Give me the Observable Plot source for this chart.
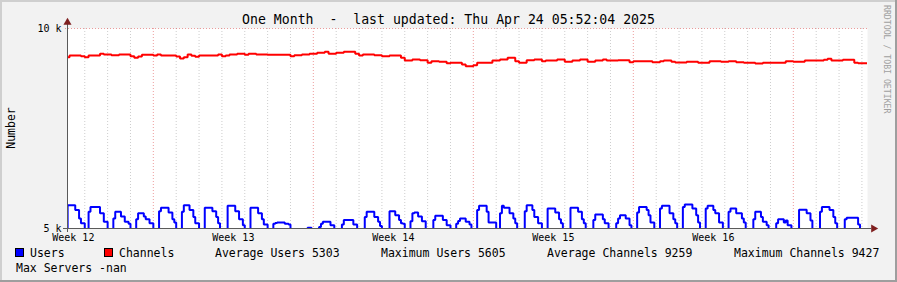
<!DOCTYPE html>
<html><head><meta charset="utf-8">
<script src="https://cdn.jsdelivr.net/npm/d3@7"></script>
<script src="https://cdn.jsdelivr.net/npm/@observablehq/plot@0.6"></script>
<style>
html,body{margin:0;padding:0;background:#f2f2f2;}
svg text{white-space:pre;}
</style></head><body><div id="chart"></div>
<script>
// ---- data ----
const titleText = "One Month  -  last updated: Thu Apr 24 05:52:04 2025";
const yLabel = "Number";
const watermark = "RRDTOOL / TOBI OETIKER";
const domainStart = "2025-03-20T05:52:04Z";
const domainEnd = "2025-04-24T05:52:04Z";

const weekLabels = ["Week 12", "Week 13", "Week 14", "Week 15", "Week 16"];
const weekLabelTimes = ["2025-03-20T12:00Z", "2025-03-27T12:00Z", "2025-04-03T12:00Z", "2025-04-10T12:00Z", "2025-04-17T12:00Z"];
const yTicks = [5000, 10000];

const seriesNames = ["Users", "Channels"];
const seriesColors = ["#0000ff", "#ff0000"];
const statLabels = ["Average Users 5303", "Maximum Users 5605", "Average Channels 9259", "Maximum Channels 9427"];
const extraLabel = "Max Servers -nan";

// Users: one value every 2 hours from 2025-03-20 00:00 (12 per day)
const usersStart = "2025-03-20T00:00Z";
const usersStepHours = 2;
const users = [
  4950,4950,4950,5580,5580,5580,5580,5460,5460,5250,5130,5130, // Mar 20
  4950,4950,5420,5540,5540,5540,5540,5540,5380,5380,5170,5170, // Mar 21
  4950,4950,4950,5250,5420,5420,5420,5300,5300,5170,5170,5120, // Mar 22
  4950,4950,4950,5230,5380,5380,5380,5300,5230,5230,5130,5130, // Mar 23
  4950,4950,4950,5430,5520,5520,5520,5520,5400,5400,5230,5150, // Mar 24
  4950,4950,4950,5420,5580,5580,5580,5460,5460,5290,5130,5130, // Mar 25
  4950,4950,4950,5520,5520,5520,5520,5430,5430,5290,5130,4950, // Mar 26
  4950,4950,4950,5570,5570,5570,5570,5430,5430,5230,5230,5080, // Mar 27
  4950,4950,4950,5520,5520,5520,5520,5380,5380,5230,5100,5100, // Mar 28
  4950,4950,4950,5120,5140,5150,5150,5150,5150,5120,5120,5100, // Mar 29
  4950,4950,4950,4950,4950,4950,4950,4950,4950,5020,5020,4950, // Mar 30
  4950,4950,4950,5040,5120,5170,5170,5170,5170,5080,5080,4950, // Mar 31
  4950,4950,4950,5100,5210,5210,5210,5210,5210,5100,5100,4950, // Apr 1
  4950,4950,4950,5290,5420,5420,5420,5420,5290,5290,5170,5060, // Apr 2
  4950,4950,4950,4950,5430,5430,5430,5330,5330,5210,5130,5120, // Apr 3
  4950,4950,4950,5180,5380,5400,5400,5300,5300,5180,5180,4950, // Apr 4
  4950,4950,4950,5210,5320,5320,5320,5320,5210,5210,5080,5080, // Apr 5
  4950,4950,4950,5120,5190,5250,5250,5250,5170,5170,5100,4950, // Apr 6
  4950,4950,5460,5570,5570,5570,5570,5420,5150,5150,5150,5150, // Apr 7
  4950,4950,5380,5570,5520,5520,5520,5380,5380,5250,5130,4950, // Apr 8
  4950,4950,4950,5430,5580,5580,5580,5460,5290,5290,5130,5130, // Apr 9
  4950,4950,4950,5500,5500,5500,5500,5400,5400,5230,5130,4950, // Apr 10
  4950,4950,4950,5520,5520,5520,5520,5420,5420,5230,5130,4950, // Apr 11
  4950,4950,4950,5210,5350,5350,5350,5350,5230,5130,5130,4950, // Apr 12
  4950,4950,4950,5130,5250,5330,5330,5330,5250,5250,5080,4950, // Apr 13
  4950,4950,5400,5540,5540,5540,5540,5460,5330,5150,5150,4950, // Apr 14
  4950,4950,5500,5570,5570,5570,5570,5380,5380,5230,5130,4950, // Apr 15
  4950,4950,5540,5600,5600,5600,5600,5500,5500,5330,5150,4950, // Apr 16
  4950,4950,5500,5570,5570,5570,5460,5380,5380,5150,5150,4950, // Apr 17
  4950,4950,5420,5500,5500,5500,5380,5380,5380,5250,5150,4950, // Apr 18
  4950,4950,4950,5230,5420,5420,5420,5290,5170,5170,5080,4950, // Apr 19
  4950,4950,4950,5130,5230,5230,5230,5150,5200,5080,5080,4950, // Apr 20
  4950,4950,4950,5470,5470,5470,5470,5380,5380,5200,4950,4950, // Apr 21
  4950,4950,5420,5540,5540,5540,5540,5460,5460,5290,5130,4950, // Apr 22
  4950,4950,4950,5230,5270,5270,5270,5270,5270,5270,5100,4950, // Apr 23
  4950,4950,4950                                               // Apr 24
];

// Channels: one value every 4 hours from 2025-03-20 00:00
const channelsStart = "2025-03-20T00:00Z";
const channelsStepHours = 4;
const channels = [
  9283,9283,9325,9325,9325,9308,9283,9325,9325,9325,
  9367,9350,9350,9333,9333,9350,9350,9350,9308,9267,
  9300,9342,9342,9342,9325,9350,9325,9325,9325,9325,
  9300,9250,9283,9350,9317,9292,9325,9325,9325,9325,
  9325,9350,9308,9325,9350,9350,9367,9367,9342,9367,
  9367,9350,9350,9350,9342,9342,9342,9342,9342,9342,
  9308,9333,9333,9350,9350,9367,9367,9392,9392,9417,
  9367,9367,9392,9392,9417,9417,9417,9367,9325,9350,
  9350,9350,9333,9333,9308,9308,9325,9325,9325,9267,
  9200,9200,9225,9225,9208,9208,9142,9183,9183,9167,
  9167,9133,9142,9142,9142,9100,9058,9058,9083,9142,
  9142,9142,9142,9200,9200,9225,9225,9267,9267,9183,
  9142,9142,9208,9208,9225,9225,9183,9200,9200,9200,
  9225,9225,9167,9167,9200,9200,9225,9225,9167,9167,
  9200,9200,9225,9200,9200,9200,9208,9208,9208,9158,
  9183,9183,9183,9183,9183,9158,9158,9183,9200,9200,
  9167,9150,9150,9150,9167,9167,9167,9142,9142,9142,
  9183,9183,9183,9167,9167,9183,9183,9158,9158,9142,
  9142,9142,9125,9125,9142,9142,9142,9142,9142,9142,
  9183,9183,9167,9167,9167,9200,9200,9200,9200,9200,
  9217,9242,9200,9200,9200,9217,9217,9217,9142,9133,
  9133,9133
];

// ---- build ----
const FONT = "'DejaVu Sans Mono', monospace";
const start = new Date(domainStart);
const end = new Date(domainEnd);
function series(values, t0, stepH) {
  const base = new Date(t0).getTime();
  const rows = values.map((v, i) => ({t: new Date(base + i * stepH * 3600e3), v}));
  rows.push({t: end, v: values[values.length - 1]});
  return rows;
}
const usersData = series(users, usersStart, usersStepHours);
const channelsData = series(channels, channelsStart, channelsStepHours);
const weekTimes = weekLabelTimes.map(s => new Date(s));
const minorDays = d3.utcDay.range(start, end).filter(d => d.getUTCDay() !== 1);
const mondays = d3.utcMonday.range(start, end);

const GRID = "rgba(143,143,143,0.45)";
const MGRID = "rgba(222,79,79,0.55)";
const AXIS = "#5a5a5a";
const ARROW = "#7f1f1f";

const chart = Plot.plot({
  width: 897, height: 282,
  marginLeft: 67, marginRight: 30, marginTop: 28, marginBottom: 54,
  style: {background: "#f2f2f2", fontFamily: FONT, fontSize: "10px", color: "#000", overflow: "visible"},
  x: {type: "utc", domain: [start, end], label: null},
  y: {domain: [5000, 10000], label: null},
  marks: [
    Plot.frame({fill: "#ffffff", stroke: null}),
    Plot.ruleX(minorDays, {stroke: GRID, strokeDasharray: "1,2"}),
    Plot.ruleX(mondays, {stroke: MGRID, strokeDasharray: "1,2"}),
    Plot.ruleY([10000], {stroke: MGRID, strokeDasharray: "1,2", insetLeft: -2, insetRight: -2}),
    Plot.line(usersData, {x: "t", y: "v", curve: "step-after", stroke: seriesColors[0], strokeWidth: 2, strokeLinejoin: "miter", clip: true}),
    Plot.line(channelsData, {x: "t", y: "v", curve: "step-after", stroke: seriesColors[1], strokeWidth: 2, strokeLinejoin: "miter", clip: true}),
    Plot.ruleY([5000], {stroke: AXIS, insetLeft: -4, insetRight: -4}),
    Plot.ruleX([start], {stroke: AXIS, insetTop: -4, insetBottom: -4}),
    Plot.dot([{t: end, v: 5000}], {x: "t", y: "v", symbol: "triangle", r: 3, rotate: 90, dx: 6, fill: ARROW, stroke: null}),
    Plot.dot([{t: start, v: 10000}], {x: "t", y: "v", symbol: "triangle", r: 3, dy: -6, fill: ARROW, stroke: null}),
    Plot.axisY({ticks: yTicks, tickFormat: d => `${d / 1000} k`, tickSize: 0, tickPadding: 6, label: null}),
    Plot.axisX({ticks: weekTimes, tickFormat: d => weekLabels[weekTimes.findIndex(w => +w === +d)], tickSize: 0, tickPadding: 5, label: null})
  ]
});
document.getElementById("chart").appendChild(chart);

// ---- decorations (text, legend, frame) ----
const svg = d3.select(chart);
svg.append("rect").attr("x", 0).attr("y", 0).attr("width", 897).attr("height", 2).attr("fill", "#cfcfcf");
svg.append("rect").attr("x", 0).attr("y", 0).attr("width", 2).attr("height", 282).attr("fill", "#cfcfcf");
svg.append("rect").attr("x", 0).attr("y", 280).attr("width", 897).attr("height", 2).attr("fill", "#9e9e9e");
svg.append("rect").attr("x", 895).attr("y", 0).attr("width", 2).attr("height", 282).attr("fill", "#9e9e9e");

function txt(x, y, s, size, opts = {}) {
  const t = svg.append("text").attr("x", x).attr("y", y).text(s)
    .attr("font-family", FONT).attr("font-size", size).attr("fill", opts.fill || "#000")
    .attr("text-anchor", opts.anchor || "start");
  if (opts.transform) t.attr("transform", opts.transform).attr("x", 0).attr("y", 0);
  return t;
}
txt(448.5, 24, titleText, 13.2, {anchor: "middle"});
txt(0, 0, yLabel, 11.5, {anchor: "middle", transform: "translate(14.5,128) rotate(-90)"});
txt(0, 0, watermark, 8.2, {fill: "#a0a0a0", transform: "translate(884,5) rotate(90)"});

const swX = [15, 104], nameX = [30, 119];
seriesNames.forEach((n, i) => {
  svg.append("rect").attr("x", swX[i] + 0.5).attr("y", 248.5).attr("width", 8).attr("height", 8)
    .attr("fill", seriesColors[i]).attr("stroke", "#000").attr("stroke-width", 1);
  txt(nameX[i], 257, n, 11.5);
});
const statX = [215, 381, 547, 734];
statLabels.forEach((s, i) => txt(statX[i], 257, s, 11.5));
txt(16, 272, extraLabel, 11.5);
</script></body></html>
